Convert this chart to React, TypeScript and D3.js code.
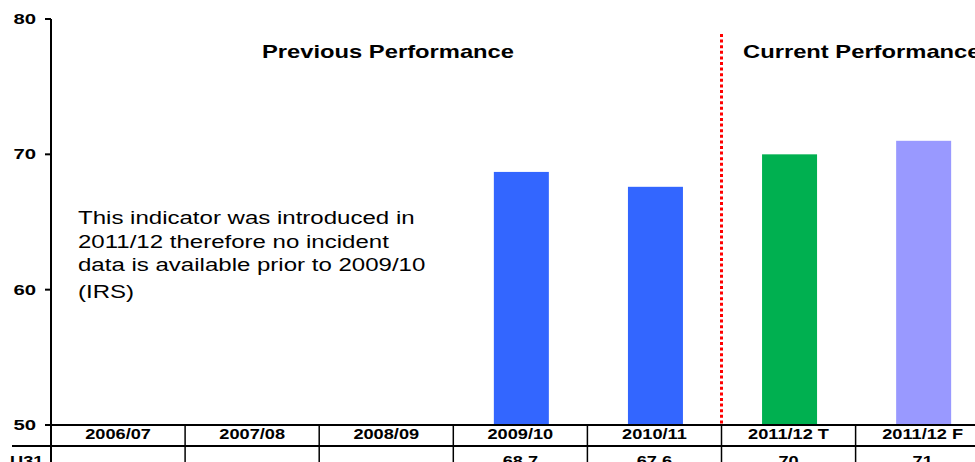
import React from "react";
import * as d3 from "d3";

const categories = ["2006/07", "2007/08", "2008/09", "2009/10", "2010/11", "2011/12 T", "2011/12 F"];
const values: (number | null)[] = [null, null, null, 68.7, 67.6, 70, 71];
const tableValues = ["", "", "", "68.7", "67.6", "70", "71"];
const barColors = ["#3366FF", "#3366FF", "#3366FF", "#3366FF", "#3366FF", "#00B050", "#9999FF"];
const yTicks = [50, 60, 70, 80];
const rowLabel = "U31";
const sectionTitles = ["Previous Performance", "Current Performance"];
const annotationLines = [
  "This indicator was introduced in",
  "2011/12 therefore no incident",
  "data is available prior to 2009/10",
  "(IRS)",
];

const W = 975;
const H = 462;
const FONT = "'Liberation Sans', Arial, sans-serif";

function Txt(props: {
  x: number; y: number; sx: number; size: number; bold?: boolean;
  anchor?: "start" | "middle" | "end"; children: React.ReactNode;
}) {
  const { x, y, sx, size, bold, anchor = "start", children } = props;
  return (
    <text
      transform={`translate(${x},${y}) scale(${sx},1)`}
      fontFamily={FONT}
      fontSize={size}
      fontWeight={bold ? "bold" : "normal"}
      textAnchor={anchor}
      fill="#000"
    >
      {children}
    </text>
  );
}

export default function App() {
  const left = 51;
  const colW = 134.1;
  const x = d3.scaleBand<string>().domain(categories).range([left, left + colW * categories.length]).padding(0);
  const y = d3.scaleLinear().domain([50, 80]).range([425, 19]);
  const barW = 55;
  const row1Bottom = 446;
  const dividerX = x("2011/12 T")!;

  return (
    <svg
      width={W}
      height={H}
      style={{ position: "absolute", left: 0, top: 0, display: "block", background: "#fff" }}
    >
      <rect x={0} y={0} width={W} height={H} fill="#fff" />

      {/* bars */}
      {categories.map((c, i) => {
        const v = values[i];
        if (v == null) return null;
        const cx = x(c)! + x.bandwidth() / 2;
        return (
          <rect
            key={c}
            x={cx - barW / 2 + 1}
            y={y(v)}
            width={barW}
            height={y(50) - y(v)}
            fill={barColors[i]}
          />
        );
      })}

      {/* red dotted separator */}
      <line
        x1={dividerX}
        x2={dividerX}
        y1={34}
        y2={y(50)}
        stroke="#FF0000"
        strokeWidth={3}
        strokeDasharray="3,2.6"
      />

      {/* y axis */}
      <line x1={left} x2={left} y1={y(80)} y2={H} stroke="#000" strokeWidth={2} />
      {yTicks.map((t) => (
        <g key={t}>
          <line x1={45} x2={left} y1={y(t)} y2={y(t)} stroke="#000" strokeWidth={2} />
          <Txt x={36} y={y(t) + 5} sx={1.45} size={14} bold anchor="end">
            {t}
          </Txt>
        </g>
      ))}

      {/* table */}
      <line x1={45} x2={W} y1={y(50)} y2={y(50)} stroke="#000" strokeWidth={2} />
      <line x1={12} x2={W} y1={row1Bottom} y2={row1Bottom} stroke="#000" strokeWidth={2} />
      {categories.slice(1).map((c) => (
        <line key={c} x1={x(c)!} x2={x(c)!} y1={y(50)} y2={H} stroke="#000" strokeWidth={1.5} />
      ))}
      {categories.map((c, i) => {
        const cx = x(c)! + x.bandwidth() / 2;
        return (
          <g key={c}>
            <Txt x={cx} y={439} sx={1.3} size={14} bold anchor="middle">
              {c}
            </Txt>
            <Txt x={cx} y={466} sx={1.3} size={14} bold anchor="middle">
              {tableValues[i]}
            </Txt>
          </g>
        );
      })}
      <Txt x={10} y={466} sx={1.3} size={14} bold>
        {rowLabel}
      </Txt>

      {/* section titles */}
      <Txt x={388} y={58} sx={1.25} size={19} bold anchor="middle">
        {sectionTitles[0]}
      </Txt>
      <Txt x={743} y={58} sx={1.25} size={19} bold>
        {sectionTitles[1]}
      </Txt>

      {/* annotation */}
      {annotationLines.map((l, i) => (
        <Txt key={i} x={78} y={224 + i * 23.6 + (i === 3 ? 3 : 0)} sx={1.3} size={18.5}>
          {l}
        </Txt>
      ))}
    </svg>
  );
}
